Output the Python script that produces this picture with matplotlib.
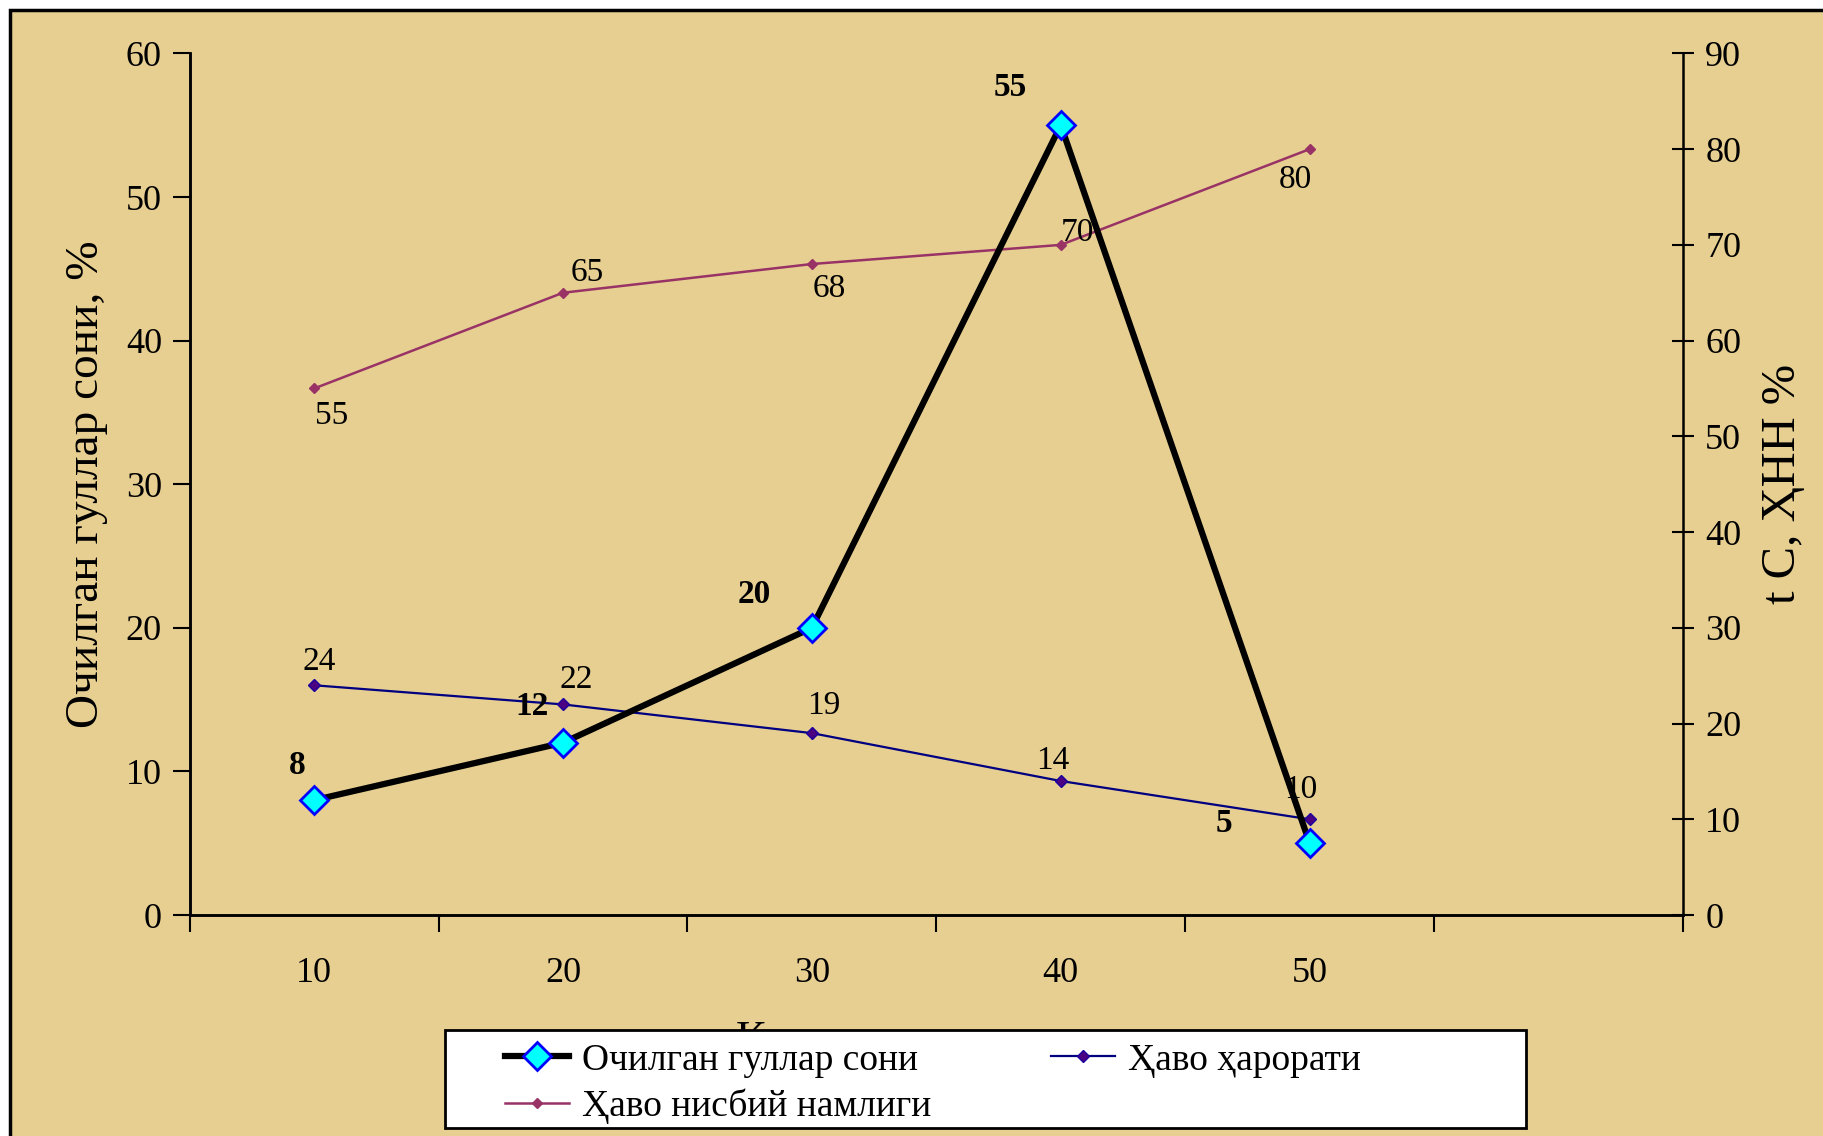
import matplotlib.pyplot as plt
from matplotlib.patches import Rectangle
from matplotlib.lines import Line2D

plt.rcParams['font.family'] = ['Liberation Serif', 'DejaVu Serif']

# data
days = ['10', '20', '30', '40', '50']
flowers = [8, 12, 20, 55, 5]          # Очилган гуллар сони, %
temperature = [24, 22, 19, 14, 10]    # Ҳаво ҳарорати
humidity = [55, 65, 68, 70, 80]       # Ҳаво нисбий намлиги

# label offsets (pixels) for each point
flower_off = [(-17, 35), (-31, 36), (-58, 33), (-51, 38), (-86, 20)]
temp_off = [(5, 24), (13, 25), (12, 27), (-8, 20), (-9, 30)]
hum_off = [(17, -27), (24, 20), (17, -25), (17, 12), (-14, -31)]

bg = '#E7CF92'
W, H = 1824, 1136

fig = plt.figure(figsize=(W / 100, H / 100), dpi=100)
fig.patch.set_facecolor('white')
fig.patches.append(Rectangle((10 / W, -0.01), 1.0, 1 - 10 / H + 0.01,
                             transform=fig.transFigure, facecolor=bg,
                             edgecolor='black', linewidth=2.5, zorder=-1))

ax = fig.add_axes([0.104, 0.1945, 0.8187, 0.7585])
ax2 = ax.twinx()
ax.set_zorder(ax2.get_zorder() + 1)
ax.patch.set_visible(False)
ax2.patch.set_visible(False)

x = list(range(len(days)))

# right axis series
ax2.plot(x, temperature, color='#000080', lw=1.6, marker='D', ms=6,
         mfc='#4B0082', mec='#1a00a0', zorder=3)
ax2.plot(x, humidity, color='#993366', lw=1.8, marker='D', ms=5.5,
         mfc='#993366', mec='#993366', zorder=3)

# left axis series
ax.plot(x, flowers, color='black', lw=4.5, marker='D', ms=14,
        mfc='#00FFFF', mec='#0000FF', mew=2, zorder=4)

for xi, v, (dx, dy) in zip(x, flowers, flower_off):
    ax.annotate(str(v), (xi, v), xytext=(dx, dy), textcoords='offset pixels',
                ha='center', va='center', fontsize=24, fontweight='bold')
for xi, v, (dx, dy) in zip(x, temperature, temp_off):
    ax2.annotate(str(v), (xi, v), xytext=(dx, dy), textcoords='offset pixels',
                 ha='center', va='center', fontsize=24)
for xi, v, (dx, dy) in zip(x, humidity, hum_off):
    ax2.annotate(str(v), (xi, v), xytext=(dx, dy), textcoords='offset pixels',
                 ha='center', va='center', fontsize=24)

# axes
ax.set_xlim(-0.5, 5.5)
ax.set_ylim(0, 60)
ax2.set_ylim(0, 90)
ax.set_yticks(range(0, 61, 10))
ax2.set_yticks(range(0, 91, 10))

ax.set_xticks([i - 0.5 for i in range(7)])
ax.set_xticklabels([])
ax.set_xticks(x, minor=True)
ax.set_xticklabels(days, minor=True)
ax.tick_params(axis='x', which='major', direction='out', length=12, width=1.5)
ax.tick_params(axis='x', which='minor', length=0, pad=30, labelsize=26)
ax.tick_params(axis='y', direction='out', length=12, width=1.5, labelsize=26, pad=8)
ax2.tick_params(axis='y', direction='inout', length=16, width=1.5, labelsize=26, pad=8)

for a in (ax, ax2):
    a.spines['top'].set_visible(False)
    for s in ('left', 'right', 'bottom'):
        a.spines[s].set_linewidth(1.8)
ax.spines['right'].set_visible(False)

ax.set_ylabel('Очилган гуллар сони, %', fontsize=34, labelpad=13)
ax2.set_ylabel('t C, ҲНН %', fontsize=35, labelpad=14)
ax.set_xlabel('Кузатув муддати, кун', fontsize=32, labelpad=22)

# legend box (white, black frame) with legend entries on top
fig.patches.append(Rectangle((445 / W, 1 - 1128 / H), (1526 - 445) / W, (1128 - 1030) / H,
                             transform=fig.transFigure, facecolor='white',
                             edgecolor='black', linewidth=2, zorder=8))

handles = [
    Line2D([], [], color='black', lw=4.5, marker='D', ms=14,
           mfc='#00FFFF', mec='#0000FF', mew=2),
    Line2D([], [], color='#993366', lw=1.8, marker='D', ms=5.5,
           mfc='#993366', mec='#993366'),
    Line2D([], [], color='#000080', lw=1.6, marker='D', ms=6,
           mfc='#4B0082', mec='#1a00a0'),
]
labels = ['Очилган гуллар сони', 'Ҳаво нисбий намлиги', 'Ҳаво ҳарорати']
leg = fig.legend(handles, labels, ncol=2, loc='upper left',
                 bbox_to_anchor=(505 / W, 1 - 1043 / H),
                 fontsize=27, frameon=False, handlelength=1.7, handletextpad=0.35,
                 columnspacing=3.2, borderpad=0.0, labelspacing=0.3, borderaxespad=0)
leg.set_zorder(10)

fig.savefig('out.png', dpi=100)
